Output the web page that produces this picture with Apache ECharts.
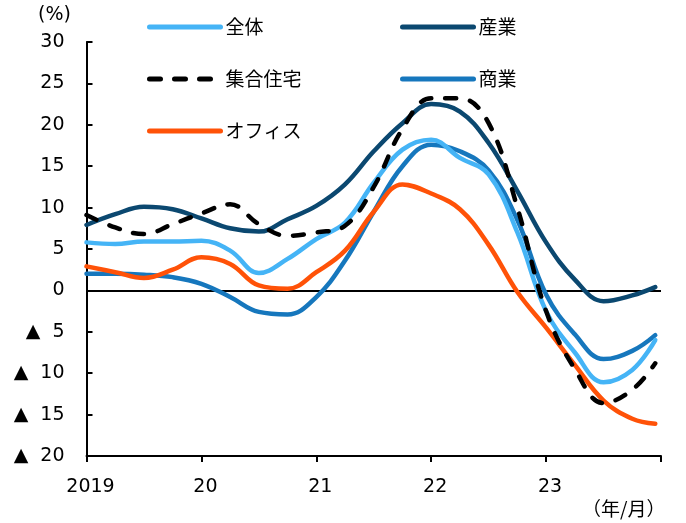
<!DOCTYPE html>
<html>
<head>
<meta charset="utf-8">
<script src="https://cdn.jsdelivr.net/npm/echarts@6/dist/echarts.min.js"></script>
<style>
  html, body { margin: 0; padding: 0; background: #fff; }
  #chart { width: 686px; height: 523px; }
</style>
</head>
<body>
<div id="chart"></div>
<script>
// Quarterly time positions (fractional years), last point = latest month
const periods = [2019.00, 2019.25, 2019.50, 2019.75, 2020.00, 2020.25, 2020.50, 2020.75,
                 2021.00, 2021.25, 2021.50, 2021.75, 2022.00, 2022.25, 2022.50, 2022.75,
                 2023.00, 2023.25, 2023.50, 2023.75, 2023.95];

// Year-on-year change (%)
const total      = [5.8, 5.6, 5.9, 5.9, 6.0, 4.8, 2.1, 3.8, 6.2, 8.2, 13.0, 17.0, 18.2, 16.0, 14.0, 7.0, -2.5, -7.5, -11.1, -9.6, -6.0];
const industrial = [7.9, 9.2, 10.1, 9.8, 8.7, 7.5, 7.1, 8.6, 10.2, 12.8, 16.8, 20.2, 22.5, 21.6, 17.8, 12.0, 5.8, 1.3, -1.3, -0.6, 0.4];
const apartment  = [9.1, 7.6, 6.8, 8.0, 9.3, 10.4, 8.0, 6.6, 7.0, 7.8, 12.5, 19.5, 23.2, 23.2, 20.2, 10.0, -2.5, -9.5, -13.6, -12.0, -8.8];
const commercial = [2.0, 2.0, 1.9, 1.6, 0.8, -0.8, -2.6, -2.9, -0.8, 3.6, 9.5, 15.0, 17.6, 16.8, 14.5, 8.5, -0.5, -5.3, -8.3, -7.3, -5.4];
const office     = [2.9, 2.2, 1.5, 2.5, 4.0, 3.2, 0.6, 0.2, 2.2, 4.8, 9.5, 12.8, 11.7, 9.8, 5.5, -0.2, -4.5, -9.0, -13.3, -15.5, -16.1];

const yearLabels = { 2019: '2019', 2020: '20', 2021: '21', 2022: '22', 2023: '23', 2024: '' };

const pairs = vals => periods.map((p, i) => [p, vals[i]]);

const FONT = 'DejaVu Sans';
const CJK = '"Noto Sans CJK JP"';
const DASH = [11, 14];

const seriesDefs = [
  { name: '全体',     data: total,      color: '#45B4F6', dash: 'solid' },
  { name: '産業',     data: industrial, color: '#0B4870', dash: 'solid' },
  { name: '集合住宅', data: apartment,  color: '#000000', dash: DASH },
  { name: '商業',     data: commercial, color: '#1677BD', dash: 'solid' },
  { name: 'オフィス', data: office,     color: '#FF5208', dash: 'solid' }
];

// z-order: blues first, then orange, then navy and dashed on top
const drawOrder = ['商業', '全体', 'オフィス', '産業', '集合住宅'];

const series = seriesDefs.map(d => ({
  name: d.name,
  type: 'line',
  data: pairs(d.data),
  smooth: 0.4,
  symbol: 'none',
  z: 2 + drawOrder.indexOf(d.name),
  lineStyle: { color: d.color, width: 4.5, type: d.dash, cap: 'round' },
  itemStyle: { color: d.color }
}));

// zero reference line
series[0].markLine = {
  silent: true,
  symbol: 'none',
  label: { show: false },
  lineStyle: { color: '#000', width: 1.8, type: 'solid' },
  data: [{ yAxis: 0 }],
  z: 1
};

const legendPos = [
  { name: '全体',     left: 147, top: 17 },
  { name: '産業',     left: 400, top: 17 },
  { name: '集合住宅', left: 147, top: 69 },
  { name: '商業',     left: 400, top: 69 },
  { name: 'オフィス', left: 147, top: 121 }
];

const legends = legendPos.map(l => {
  const def = seriesDefs.find(d => d.name === l.name);
  return {
    data: [l.name],
    left: l.left,
    top: l.top,
    padding: 0,
    itemWidth: 71,
    itemHeight: 14,
    selectedMode: false,
    itemStyle: { opacity: 0 },
    lineStyle: { width: 5, color: def.color, type: def.dash, cap: 'round' },
    textStyle: { fontFamily: CJK, fontSize: 19, color: '#000', lineHeight: 20 }
  };
});

const chart = echarts.init(document.getElementById('chart'), null, { renderer: 'canvas' });
chart.setOption({
  animation: false,
  backgroundColor: '#fff',
  grid: { left: 86.5, right: 25, top: 42, bottom: 67, containLabel: false },
  legend: legends,
  xAxis: {
    type: 'value',
    min: 2019,
    max: 2024,
    interval: 1,
    axisLine: { onZero: false, lineStyle: { color: '#000', width: 2 } },
    axisTick: { show: true, inside: false, length: 6, lineStyle: { color: '#000', width: 2 } },
    splitLine: { show: false },
    axisLabel: {
      margin: 22,
      fontFamily: FONT,
      fontSize: 19,
      color: '#000',
      padding: [0, 0, 0, 8],
      formatter: v => yearLabels[v] !== undefined ? yearLabels[v] : ''
    }
  },
  yAxis: {
    type: 'value',
    min: -20,
    max: 30,
    interval: 5,
    axisLine: { show: true, onZero: false, lineStyle: { color: '#000', width: 2 } },
    axisTick: { show: true, inside: true, length: 6, lineStyle: { color: '#000', width: 2 } },
    splitLine: { show: false },
    axisLabel: {
      margin: 22,
      fontFamily: FONT,
      fontSize: 19,
      color: '#000',
      formatter: v => v < 0 ? '▲  ' + (-v) : String(v)
    }
  },
  graphic: [
    { type: 'text', left: 38, top: 6, style: { text: '(%)', fontFamily: FONT, fontSize: 19, fill: '#000' } },
    { type: 'text', left: 582, top: 499, style: { text: '（年/月）', fontFamily: CJK, fontSize: 19, fill: '#000' } }
  ],
  series: series
});
</script>
</body>
</html>
